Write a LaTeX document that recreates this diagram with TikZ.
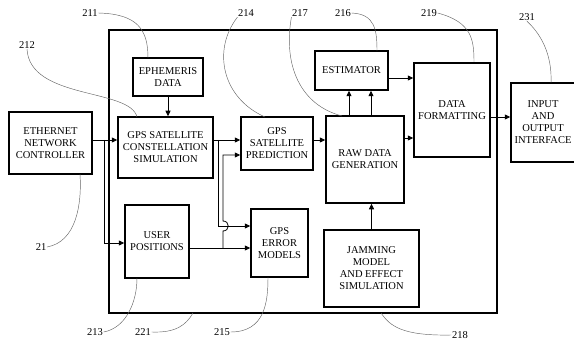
\documentclass[tikz,border=0pt]{standalone}
\usepackage{fontspec}
\setmainfont{Liberation Serif}
\usetikzlibrary{arrows.meta,calc}
\begin{document}
\begin{tikzpicture}[x=1pt,y=-1pt,
  box/.style={draw, line width=1.5pt, inner sep=1pt, align=center, font=\fontsize{10.5}{12}\selectfont},
  sysbox/.style={draw, line width=1.5pt, inner sep=0pt},
  conn/.style={line width=0.8pt},
  arr/.style={conn, -{Triangle[length=5.5pt,width=5pt]}},
  lead/.style={line width=0.45pt, black!60},
  num/.style={font=\fontsize{10.5}{12}\selectfont, inner sep=0.5pt}]
\useasboundingbox (0,0) rectangle (574,345);
\clip (0,0) rectangle (574,345);

% outer system box
\node[sysbox, minimum width=388, minimum height=283] (sys) at (303,171.5) {};

% blocks
\node[box, minimum width=83, minimum height=62] (eth) at (50.5,143) {ETHERNET\\NETWORK\\CONTROLLER};
\node[box, minimum width=70, minimum height=38] (eph) at (168,77) {EPHEMERIS\\DATA};
\node[box, minimum width=95, minimum height=61] (const) at (165.5,147.5) {GPS SATELLITE\\CONSTELLATION\\SIMULATION};
\node[box, minimum width=72, minimum height=53] (pred) at (277,143.5) {GPS\\SATELLITE\\PREDICTION};
\node[box, minimum width=78, minimum height=87] (raw) at (365,159.5) {RAW DATA\\GENERATION};
\node[box, minimum width=73, minimum height=39] (est) at (351.5,70.5) {ESTIMATOR};
\node[box, minimum width=76, minimum height=94] (fmt) at (452,110) {DATA\\FORMATTING};
\node[box, minimum width=64, minimum height=79] (io) at (543,122.5) {INPUT\\AND\\OUTPUT\\INTERFACE};
\node[box, minimum width=64, minimum height=73] (user) at (157,241.5) {USER\\POSITIONS};
\node[box, minimum width=57, minimum height=68] (err) at (279.5,243) {GPS\\ERROR\\MODELS};
\node[box, minimum width=95, minimum height=77] (jam) at (371.5,268.5) {JAMMING\\MODEL\\AND EFFECT\\SIMULATION};

% connectors
\coordinate (b1) at (104,140);
\draw[arr] ([yshift=3pt]eth.east) -- ([yshift=3pt]eth.east -| const.west);
\draw[arr] (b1) |- ([yshift=-1.5pt]user.west);
\draw[arr] (eph.south) -- (eph.south |- const.north);

\coordinate (b2) at (218,140);
\draw[arr] ([yshift=7.5pt]const.east) -- ([yshift=7.5pt]const.east -| pred.west);
\draw[arr] (b2) |- ([yshift=17pt]err.west);

\coordinate (b3) at (223,248);
\coordinate (h1) at (223,231);
\coordinate (h2) at (223,221);
\draw[arr] ([yshift=-6.5pt]user.east) -- ([yshift=-6.5pt]user.east -| err.west);
\draw[arr] (b3) -- (h1) .. controls (230,231) and (230,221) .. (h2) |- ([yshift=-11.5pt]pred.west);

\draw[arr] ([yshift=3.5pt]pred.east) -- ([yshift=3.5pt]pred.east -| raw.west);
\draw[arr] ([xshift=-16pt]raw.north) -- ([xshift=-16pt]raw.north |- est.south);
\draw[arr] ([xshift=6pt]raw.north) -- ([xshift=6pt]raw.north |- est.south);
\draw[arr] ([yshift=-7.5pt]est.east) -- ([yshift=-7.5pt]est.east -| fmt.west);
\draw[arr] ([yshift=21.5pt]raw.east) -- ([yshift=21.5pt]raw.east -| fmt.west);
\draw[arr] ([yshift=-7pt]fmt.east) -- ([yshift=-7pt]fmt.east -| io.west);
\draw[arr] (jam.north) -- (jam.north |- raw.south);

% reference numerals and leaders
\node[num] (n211) at (90,13) {211};
\node[num] (n212) at (27,45) {212};
\node[num] (n214) at (246,13) {214};
\node[num] (n217) at (300,13) {217};
\node[num] (n216) at (343,13) {216};
\node[num] (n219) at (429,13) {219};
\node[num] (n231) at (527,17) {231};
\node[num] (n21) at (41,247) {21};
\node[num] (n213) at (95,332) {213};
\node[num] (n221) at (143,332) {221};
\node[num] (n215) at (222,332) {215};
\node[num] (n218) at (460,335) {218};

\coordinate (t211) at (148,58);
\coordinate (t212) at (137,117);
\coordinate (t214) at (265,117);
\coordinate (t217) at (342,116);
\coordinate (t216) at (377,51);
\coordinate (t219) at (474,62);
\coordinate (t231) at (551,83);
\coordinate (t21) at (80,174);
\coordinate (t213) at (137,278);
\coordinate (t221) at (193,313);
\coordinate (t215) at (268,277);
\coordinate (t218) at (381,313);

\draw[lead] (n211.east) .. controls (138,14) and (148,30) .. (t211);
\draw[lead] (n212.south) .. controls (30,100) and (130,88) .. (t212);
\draw[lead] (n214.south west) .. controls (212,50) and (222,98) .. (t214);
\draw[lead] (n217.south west) .. controls (283,65) and (300,105) .. (t217);
\draw[lead] (n216.east) .. controls (375,14) and (377,30) .. (t216);
\draw[lead] (n219.east) .. controls (472,22) and (474,40) .. (t219);
\draw[lead] (n231.south) .. controls (545,38) and (552,60) .. (t231);
\draw[lead] (n21.east) .. controls (76,242) and (82,205) .. (t21);
\draw[lead] (n213.east) .. controls (126,328) and (137,302) .. (t213);
\draw[lead] (n221.east) .. controls (176,333) and (186,325) .. (t221);
\draw[lead] (n215.east) .. controls (265,332) and (268,302) .. (t215);
\draw[lead] (n218.west) .. controls (402,336) and (390,326) .. (t218);
\end{tikzpicture}
\end{document}
